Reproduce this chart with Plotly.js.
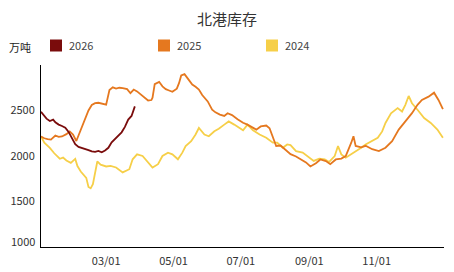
<!DOCTYPE html>
<html>
<head>
<meta charset="utf-8">
<script src="https://cdn.plot.ly/plotly-3.0.1.min.js"></script>
<style>
html,body{margin:0;padding:0;background:#fff;}
#chart{width:454px;height:272px;}
</style>
</head>
<body>
<div id="chart"></div>
<script>
// ---- data (values in 万吨, dates as MM-DD, all mapped onto one calendar year) ----
const seriesNames = ['2026', '2025', '2024'];
const unitLabel = '万吨';
const chartTitle = '北港库存';

const dates2026 = ['01-01','01-03','01-06','01-09','01-12','01-14','01-17','01-20','01-23','01-26','01-29','02-01','02-04','02-07','02-10','02-13','02-16','02-19','02-22','02-25','02-28','03-03','03-06','03-09','03-12','03-15','03-18','03-21','03-24','03-27'];
const v2026 = [2485,2450,2410,2385,2400,2370,2345,2330,2310,2265,2190,2130,2100,2090,2075,2065,2050,2045,2055,2040,2060,2090,2150,2190,2230,2260,2320,2400,2440,2545];

const dates2025 = ['01-01','01-04','01-07','01-10','01-14','01-17','01-20','01-24','01-27','01-30','02-02','02-04','02-07','02-10','02-13','02-16','02-19','02-22','02-25','03-01','03-04','03-07','03-10','03-13','03-16','03-20','03-23','03-26','03-29','04-01','04-04','04-08','04-11','04-12','04-14','04-18','04-21','04-24','04-27','04-30','05-04','05-06','05-08','05-11','05-14','05-18','05-21','05-24','05-27','06-01','06-05','06-08','06-12','06-16','06-19','06-23','06-28','07-03','07-07','07-12','07-15','07-19','07-24','07-27','07-30','08-02','08-06','08-11','08-15','08-20','08-24','08-29','09-02','09-05','09-07','09-11','09-16','09-20','09-25','09-30','10-04','10-09','10-11','10-13','10-18','10-22','10-28','11-03','11-09','11-15','11-21','11-27','12-03','12-08','12-12','12-18','12-23','12-27','12-31'];
const v2025 = [2215,2195,2185,2180,2225,2210,2215,2240,2270,2235,2165,2230,2320,2420,2500,2560,2580,2585,2575,2565,2725,2755,2740,2750,2745,2735,2690,2730,2710,2680,2640,2610,2615,2640,2790,2815,2765,2735,2720,2705,2740,2800,2885,2900,2850,2785,2760,2730,2670,2600,2510,2480,2455,2440,2470,2450,2405,2365,2345,2308,2290,2325,2335,2305,2200,2110,2115,2065,2020,1995,1965,1930,1885,1905,1920,1962,1945,1910,1962,1972,2000,2146,2217,2110,2095,2112,2075,2054,2091,2163,2290,2380,2471,2562,2616,2652,2696,2616,2515];

const dates2024 = ['01-01','01-04','01-09','01-13','01-18','01-21','01-24','01-28','02-01','02-03','02-06','02-09','02-11','02-13','02-15','02-17','02-20','02-21','02-24','03-01','03-05','03-10','03-16','03-19','03-22','03-25','03-29','04-03','04-07','04-12','04-17','04-21','04-26','04-30','05-05','05-09','05-12','05-17','05-21','05-24','05-29','06-02','06-07','06-11','06-16','06-20','06-25','06-30','07-03','07-07','07-12','07-18','07-24','07-30','08-03','08-08','08-12','08-15','08-20','08-26','08-30','09-05','09-10','09-15','09-19','09-24','09-27','09-30','10-04','10-09','10-13','10-18','10-22','10-28','11-02','11-06','11-09','11-14','11-20','11-24','11-27','11-30','12-03','12-08','12-14','12-20','12-26','12-31'];
const v2024 = [2217,2146,2090,2030,1970,1982,1950,1925,1968,1890,1830,1790,1760,1660,1645,1690,1880,1940,1905,1885,1891,1874,1820,1837,1855,1964,2018,2000,1946,1874,1910,2000,2037,2018,1964,2037,2109,2163,2236,2308,2236,2217,2272,2300,2345,2380,2345,2308,2283,2345,2283,2236,2200,2146,2146,2091,2127,2120,2054,2037,2000,1946,1972,1964,1935,2000,2109,2018,1982,2018,2054,2091,2127,2163,2200,2270,2363,2470,2526,2489,2562,2660,2580,2508,2417,2363,2290,2200];

const xTickDates = ['03-01','05-01','07-01','09-01','11-01'];
const xTickText = ['03/01','05/01','07/01','09/01','11/01'];
const yTickVals = [1500, 2000, 2500];
const yBottomTick = 1000;

// ---- style ----
const BASE = '2001-';
const colors = ['#7a0c0c', '#e5781f', '#f6cf48'];
const W = 454, H = 272, ML = 41, MR = 10, MT = 65, MB = 25;
const FONT = '"Noto Sans CJK SC", "Noto Sans", sans-serif';
const px = x => (x - ML) / (W - ML - MR);
const py = y => (H - MB - y) / (H - MT - MB);

const toX = arr => arr.map(d => BASE + d);
const allDates = [dates2026, dates2025, dates2024];
const allVals = [v2026, v2025, v2024];

const traces = [2, 1, 0].map(i => ({
  type: 'scatter', mode: 'lines', name: seriesNames[i],
  x: toX(allDates[i]), y: allVals[i],
  line: {color: colors[i], width: 1.8},
  showlegend: false, hoverinfo: 'x+y'
}));

const legendX = [50, 158, 266];
const shapes = legendX.map((lx, i) => ({
  type: 'rect', xref: 'paper', yref: 'paper',
  x0: px(lx), x1: px(lx + 12), y0: py(51.5), y1: py(39.5),
  fillcolor: colors[i], line: {width: 0}
}));
const annotations = legendX.map((lx, i) => ({
  xref: 'paper', yref: 'paper', x: px(lx + 17), y: py(45.5),
  xanchor: 'left', yanchor: 'middle', showarrow: false,
  text: seriesNames[i], font: {family: FONT, size: 11, color: '#444'}
}));
annotations.push({
  xref: 'paper', yref: 'paper', x: px(7), y: py(47),
  xanchor: 'left', yanchor: 'middle', showarrow: false,
  text: unitLabel, font: {family: FONT, size: 11, color: '#222'}
});
annotations.push({
  xref: 'paper', yref: 'y', x: px(37), y: yBottomTick, yshift: 6,
  xanchor: 'right', yanchor: 'middle', showarrow: false,
  text: String(yBottomTick), font: {family: FONT, size: 11, color: '#333'}
});

const layout = {
  width: W, height: H,
  margin: {l: ML, r: MR, t: MT, b: MB, pad: 0},
  paper_bgcolor: '#fff', plot_bgcolor: '#fff',
  font: {family: FONT, size: 11, color: '#333'},
  title: {text: chartTitle, xref: 'container', yref: 'container', x: 0.5, xanchor: 'center',
          y: 1 - 20 / H, yanchor: 'middle', font: {family: FONT, size: 15, color: '#333'}},
  showlegend: false,
  xaxis: {
    type: 'date', range: [BASE + '01-01', '2002-01-01'],
    tickvals: toX(xTickDates), ticktext: xTickText,
    showgrid: false, zeroline: false, showline: true, linecolor: '#000', linewidth: 1,
    ticks: '', ticklabelstandoff: 4, tickfont: {family: FONT, size: 11, color: '#333'},
    fixedrange: true
  },
  yaxis: {
    range: [1000, 3000], tickvals: yTickVals,
    showgrid: false, zeroline: false, showline: true, linecolor: '#000', linewidth: 1,
    ticks: '', ticklabelstandoff: 3, tickfont: {family: FONT, size: 11, color: '#333'},
    fixedrange: true
  },
  shapes: shapes,
  annotations: annotations
};

Plotly.newPlot('chart', traces, layout, {displayModeBar: false, staticPlot: true});
</script>
</body>
</html>
